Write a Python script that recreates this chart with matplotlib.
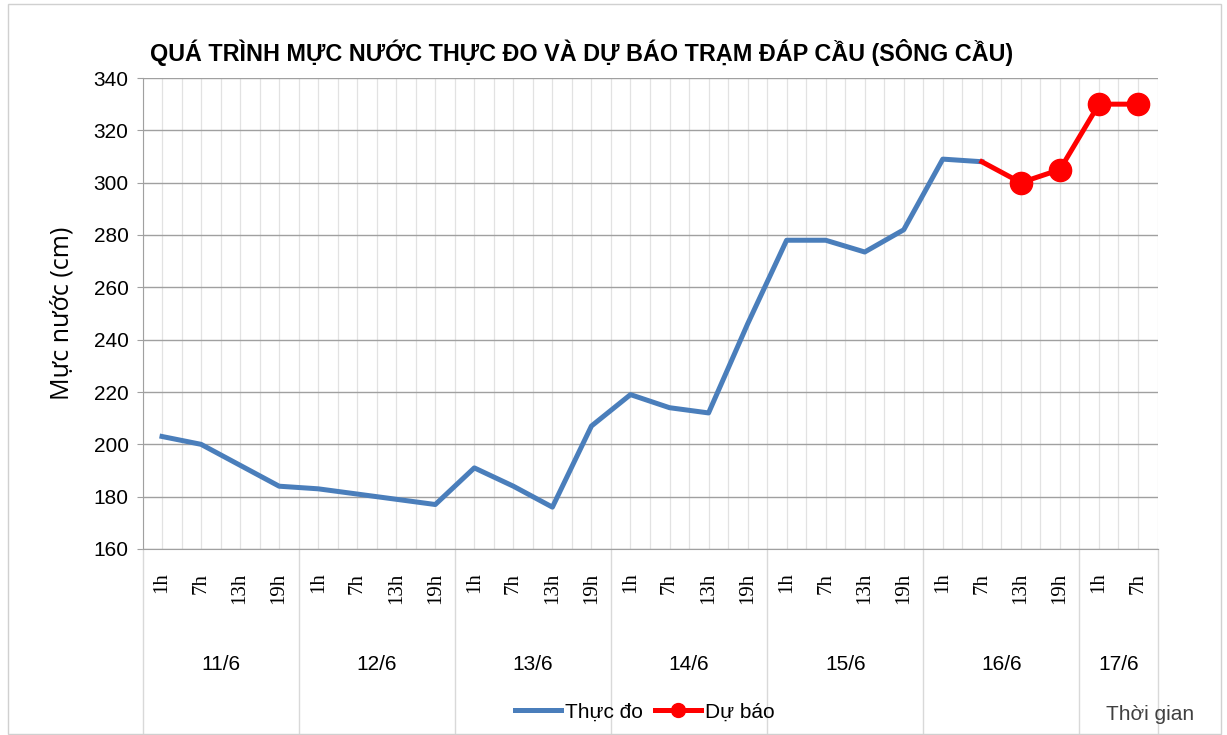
import matplotlib
matplotlib.use("Agg")
import matplotlib.pyplot as plt
from matplotlib.patches import Rectangle
from matplotlib.lines import Line2D

plt.rcParams['font.family'] = ['Liberation Sans Narrow', 'Liberation Sans', 'DejaVu Sans']

# data
days = ["11/6", "12/6", "13/6", "14/6", "15/6", "16/6", "17/6"]
hours = ["1h", "7h", "13h", "19h"] * 6 + ["1h", "7h"]
observed = [203, 200, 192, 184,
            183, 181, 179, 177,
            191, 184, 176, 207,
            219, 214, 212, 246,
            278, 278, 273.5, 282,
            309, 308]
forecast_start = 21  # index of 16/6 7h
forecast = [308, 300, 305, 330, 330]

blue = "#4a7ebb"
red = "#ff0000"

fig = plt.figure(figsize=(12.27, 7.35), dpi=100)
ax = fig.add_axes([142.5 / 1227, 1 - 549 / 735, (1157.5 - 142.5) / 1227, (549 - 78) / 735])

x_obs = list(range(len(observed)))
x_fc = list(range(forecast_start, forecast_start + len(forecast)))

ax.plot(x_obs, observed, color=blue, lw=3.6, solid_joinstyle="round", zorder=3)
ax.plot(x_fc, forecast, color=red, lw=3.6, marker="o", ms=16,
        markevery=list(range(1, len(forecast))), zorder=4)

ax.set_xlim(-0.5, len(hours) - 0.5)
ax.set_ylim(160, 340)
ax.set_yticks(range(160, 341, 20))
ax.tick_params(axis="y", labelsize=15, length=4, color="#a0a0a0", pad=6)
ax.set_xticks(range(len(hours)))
ax.set_xticklabels([])
ax.tick_params(axis="x", length=0)
ax.set_xticks([i - 0.5 for i in range(len(hours) + 1)], minor=True)
ax.tick_params(axis="x", which="minor", length=0)

ax.grid(axis="y", color="#a0a0a0", lw=1)
ax.grid(axis="x", which="major", color="#e2e2e2", lw=0.9)
ax.grid(axis="x", which="minor", color="#e2e2e2", lw=0.9)
ax.set_axisbelow(True)
for s in ["top", "right"]:
    ax.spines[s].set_visible(False)
ax.spines["left"].set_color("#a0a0a0")
ax.spines["bottom"].set_color("#a0a0a0")

ax.set_ylabel("Mực nước (cm)", fontsize=18, family=["Open Sans", "DejaVu Sans"], labelpad=14)

# hour labels
trans = ax.get_xaxis_transform()
for i, h in enumerate(hours):
    ax.text(i, -0.05, h, rotation=90, ha="center", va="top", fontsize=15,
            transform=trans, family=["Liberation Serif", "DejaVu Serif"])

# day labels and separators
for d, day in enumerate(days):
    start = d * 4 - 0.5
    end = min(d * 4 + 3.5, len(hours) - 0.5)
    ax.text((start + end) / 2, -0.245, day, ha="center", va="center", fontsize=15,
            transform=trans)
for b in range(0, len(hours) + 1, 4):
    ax.plot([b - 0.5, b - 0.5], [0, -0.4], transform=trans, color="#d9d9d9",
            lw=1, clip_on=False)
ax.plot([len(hours) - 0.5] * 2, [0, -0.4], transform=trans, color="#d9d9d9",
        lw=1, clip_on=False)

fig.text(150 / 1227, 1 - 52 / 735, "QUÁ TRÌNH MỰC NƯỚC THỰC ĐO VÀ DỰ BÁO TRẠM ĐÁP CẦU (SÔNG CẦU)",
         fontsize=16.8, fontweight="bold", ha="left", va="center")

handles = [Line2D([], [], color=blue, lw=3.6),
           Line2D([], [], color=red, lw=3.6, marker="o", ms=10)]
fig.legend(handles, ["Thực đo", "Dự báo"], loc="center",
           bbox_to_anchor=(645 / 1227, 1 - 712 / 735), ncol=2, frameon=False,
           fontsize=15, handlelength=2.2, handletextpad=0.2, columnspacing=0.6)

fig.text(1150 / 1227, 1 - 714 / 735, "Thời gian", fontsize=15, ha="center", va="center",
         color="#404040")

fig.patches.append(Rectangle((8 / 1227, 0.002), 1 - 14 / 1227, 0.993,
                             transform=fig.transFigure, fill=False,
                             edgecolor="#d0d0d0", lw=1))

fig.savefig("out.png", dpi=100)
